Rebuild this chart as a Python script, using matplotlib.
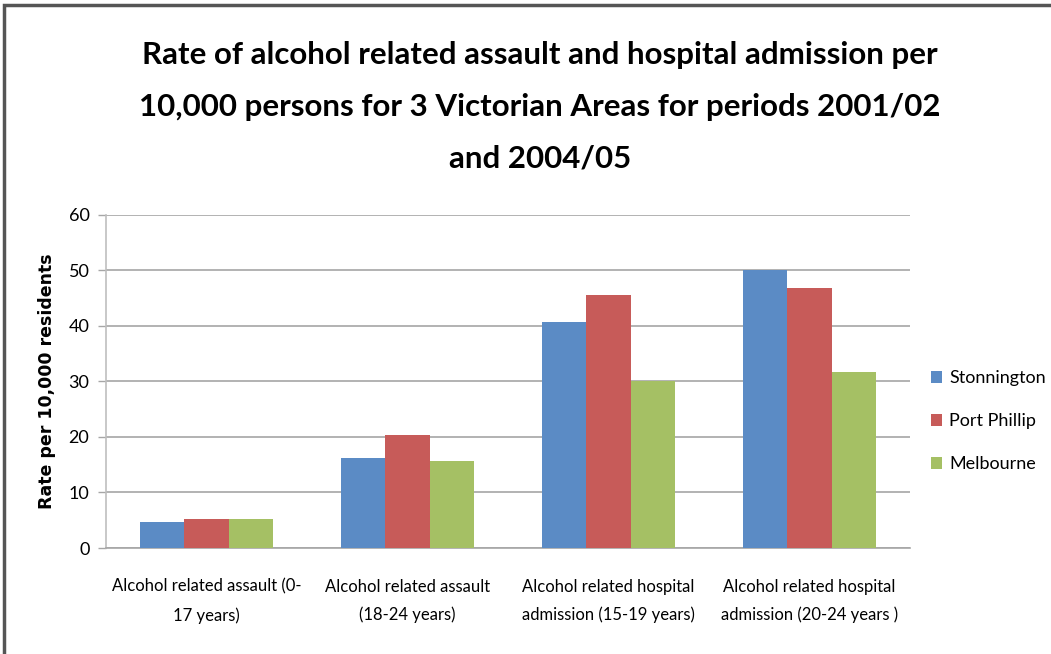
import numpy as np
import matplotlib.pyplot as plt
from matplotlib.patches import Rectangle

categories = [
    "Alcohol related assault (0-\n17 years)",
    "Alcohol related assault\n(18-24 years)",
    "Alcohol related hospital\nadmission (15-19 years)",
    "Alcohol related hospital\nadmission (20-24 years )",
]
stonnington = [4.6, 16.2, 40.6, 50.0]
port_phillip = [5.2, 20.4, 45.6, 46.8]
melbourne = [5.2, 15.6, 30.1, 31.6]
series_names = ["Stonnington", "Port Phillip", "Melbourne"]
colors = ["#5B8BC5", "#C75B59", "#A5C064"]

plt.rcParams['font.family'] = ['Lato', 'DejaVu Sans']

fig = plt.figure(figsize=(10.51, 6.54), dpi=100)
ax = fig.add_axes([0.1009, 0.162, 0.765, 0.5097])

x = np.arange(len(categories))
w = 0.222
for i, (vals, name, c) in enumerate(zip([stonnington, port_phillip, melbourne], series_names, colors)):
    ax.bar(x + (i - 1) * w, vals, width=w, color=c, label=name, zorder=3)

ax.set_xlim(-0.5, len(categories) - 0.5)
ax.set_ylim(0, 60)
ax.set_yticks(range(0, 61, 10))
ax.set_xticks(x)
ax.set_xticklabels(categories, fontsize=12, linespacing=1.9)
ax.tick_params(axis='x', length=0, pad=22)
ax.tick_params(axis='y', length=6, width=1, color='#a6a6a6', labelsize=13, pad=6)
ax.grid(axis='y', color='#a6a6a6', linewidth=1.2, zorder=0)
for side in ['top', 'right']:
    ax.spines[side].set_visible(False)
ax.spines['left'].set_color('#bfbfbf')
ax.spines['bottom'].set_color('#a6a6a6')
ax.spines['left'].set_linewidth(1.2)
ax.spines['bottom'].set_linewidth(1.2)

ax.set_ylabel("Rate per 10,000 residents", fontsize=12.5, fontweight='bold',
              family=['DejaVu Sans'], labelpad=9)

fig.text(0.514, 0.937, "Rate of alcohol related assault and hospital admission per\n"
         "10,000 persons for 3 Victorian Areas for periods 2001/02\nand 2004/05",
         ha='center', va='top', fontsize=22.5, fontweight='bold', linespacing=2.02)

ax.legend(loc='center left', bbox_to_anchor=(1.006, 0.38), frameon=False,
          fontsize=13, handlelength=0.6, handleheight=0.6, labelspacing=1.5,
          handletextpad=0.4)

fig.patches.append(Rectangle((4 / 1051, -0.1), 1.2, 1.1 - 5 / 654, transform=fig.transFigure,
                             fill=False, edgecolor='#555555', linewidth=2.5))

fig.savefig("out.png", dpi=100)
